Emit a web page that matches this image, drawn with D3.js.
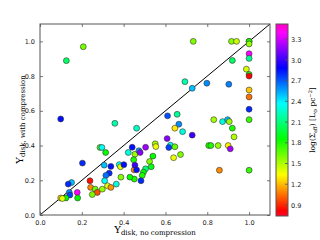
<!DOCTYPE html>
<html><head><meta charset="utf-8">
<script src="https://cdn.jsdelivr.net/npm/d3@7"></script>
<style>body{margin:0;background:#fff}svg{display:block}</style>
</head><body>
<svg id="c" width="320" height="240"></svg>
<script>
const xNoComp = [0.207,0.126,0.099,0.733,0.916,0.94,1.0,1.0,1.0,1.0,1.0,0.92,0.987,1.0,1.0,0.693,0.798,0.903,0.728,1.0,1.0,1.0,0.61,0.656,0.831,0.873,0.897,0.905,1.0,0.664,0.645,0.682,0.462,0.728,0.92,0.928,0.608,0.551,0.554,0.505,0.441,0.624,0.616,0.645,0.807,0.817,0.852,0.9,0.91,0.858,1.0,0.639,0.672,0.54,0.524,0.532,0.505,0.495,0.489,0.483,0.358,0.287,0.296,0.314,0.203,0.307,0.339,0.379,0.385,0.401,0.422,0.454,0.473,0.479,0.448,0.45,0.454,0.462,0.451,0.43,0.387,0.365,0.331,0.315,0.309,0.239,0.242,0.264,0.274,0.25,0.298,0.323,0.339,0.151,0.135,0.14,0.143,0.178,0.18,0.124,0.099,0.107];
const yWithComp = [0.969,0.889,0.553,1.0,1.0,1.0,1.0,1.0,0.985,0.929,0.902,0.89,0.84,0.81,0.8,0.768,0.759,0.753,0.73,0.72,0.68,0.609,0.571,0.58,0.549,0.538,0.549,0.538,0.549,0.523,0.5,0.48,0.5,0.46,0.5,0.45,0.44,0.41,0.394,0.39,0.39,0.402,0.389,0.393,0.4,0.4,0.4,0.4,0.381,0.258,0.258,0.33,0.348,0.339,0.308,0.278,0.266,0.247,0.228,0.197,0.528,0.389,0.389,0.36,0.299,0.287,0.28,0.29,0.278,0.29,0.36,0.35,0.37,0.36,0.318,0.26,0.287,0.26,0.207,0.218,0.218,0.178,0.241,0.228,0.197,0.197,0.159,0.149,0.13,0.118,0.149,0.168,0.159,0.187,0.178,0.13,0.115,0.13,0.098,0.098,0.098,0.095];
const logSigma = [1.62,2.05,2.85,1.6,1.58,1.45,1.65,1.8,1.55,3.38,2.15,2.05,1.42,1.8,0.82,2.2,2.6,2.62,2.5,1.22,1.05,2.8,2.72,2.15,1.52,2.3,2.5,1.55,1.75,2.6,1.3,2.3,2.25,3.0,1.8,1.5,3.15,1.52,1.38,3.2,2.85,2.35,2.75,1.65,1.78,1.8,1.55,1.3,3.2,1.1,1.75,1.38,1.6,1.85,1.6,1.9,2.1,1.85,1.8,2.8,2.2,1.68,2.35,1.85,2.8,2.5,2.85,2.35,1.4,2.85,2.3,1.55,2.55,3.15,1.8,1.1,3.0,2.85,1.8,1.85,1.6,2.3,2.8,2.65,2.35,0.85,1.1,1.65,0.98,1.6,1.55,1.4,1.12,2.5,2.8,2.6,2.75,3.38,1.85,1.85,1.25,1.4];
const axisTicks = [0.0,0.2,0.4,0.6,0.8,1.0];
const cbarTicks = [0.9,1.2,1.5,1.8,2.1,2.4,2.7,3.0,3.3];
const cbarRange = [0.74,3.52];

// gist_rainbow
const cmapPos = [0.0,0.03,0.215,0.4,0.586,0.77,0.954,1.0];
const cmapCol = ["rgb(255,0,41)","rgb(255,0,0)","rgb(255,255,0)","rgb(0,255,0)","rgb(0,255,255)","rgb(0,0,255)","rgb(255,0,255)","rgb(255,0,191)"];
const cm = d3.scaleLinear().domain(cmapPos).range(cmapCol).interpolate(d3.interpolateRgb);
const norm = d3.scaleLinear().domain(cbarRange).range([0,1]).clamp(true);
const color = v => cm(norm(v));

const svg = d3.select("#c");
const L=40,R=270,T=24,B=215;
const x = d3.scaleLinear().domain([0,1.1]).range([L,R]);
const y = d3.scaleLinear().domain([0,1.1]).range([B,T]);
const spine = "#555";
const fs = "6.5px";

// diagonal
svg.append("line").attr("x1",x(0)).attr("y1",y(0)).attr("x2",x(1.1)).attr("y2",y(1.1))
  .attr("stroke","#000").attr("stroke-width",1);

// points
const data = xNoComp.map((d,i)=>({x:d,y:yWithComp[i],c:logSigma[i]}));
svg.append("g").selectAll("circle").data(data).join("circle")
  .attr("cx",d=>x(d.x)).attr("cy",d=>y(d.y)).attr("r",2.95)
  .attr("fill",d=>color(d.c)).attr("stroke","#333").attr("stroke-width",0.6);

// axes
function styleAxis(g){
  g.select(".domain").remove();
  g.selectAll(".tick line").attr("stroke",spine).attr("stroke-width",0.8);
  g.selectAll(".tick text").attr("font-family","DejaVu Sans, sans-serif").attr("font-size",fs).attr("fill","#222");
}
const fmt = d3.format(".1f");
svg.append("g").attr("transform",`translate(0,${B})`)
  .call(d3.axisBottom(x).tickValues(axisTicks).tickFormat(fmt).tickSize(-3).tickPadding(5)).call(styleAxis);
svg.append("g").attr("transform",`translate(0,${T})`)
  .call(d3.axisTop(x).tickValues(axisTicks).tickFormat("").tickSize(-3)).call(styleAxis);
svg.append("g").attr("transform",`translate(${L},0)`)
  .call(d3.axisLeft(y).tickValues(axisTicks).tickFormat(fmt).tickSize(-3).tickPadding(5)).call(styleAxis);
svg.append("g").attr("transform",`translate(${R},0)`)
  .call(d3.axisRight(y).tickValues(axisTicks).tickFormat("").tickSize(-3)).call(styleAxis);
svg.append("rect").attr("x",L).attr("y",T).attr("width",R-L).attr("height",B-T)
  .attr("fill","none").attr("stroke",spine).attr("stroke-width",1);

// axis labels
const xl = svg.append("text").attr("x",(L+R)/2).attr("y",233).attr("text-anchor","middle")
  .attr("font-family","DejaVu Serif, serif").attr("fill","#000");
xl.append("tspan").attr("font-size","10px").text("Υ");
xl.append("tspan").attr("font-size","7px").attr("dy",2).text("disk, no compression");

const yl = svg.append("text").attr("transform",`translate(23,${(T+B)/2}) rotate(-90)`).attr("text-anchor","middle")
  .attr("font-family","DejaVu Serif, serif").attr("fill","#000");
yl.append("tspan").attr("font-size","10px").text("Υ");
yl.append("tspan").attr("font-size","7px").attr("dy",2).text("disk, with compression");

// colorbar
const CX=276,CW=12,CT=24,CB=216;
const defs = svg.append("defs");
const grad = defs.append("linearGradient").attr("id","cg").attr("x1",0).attr("y1",1).attr("x2",0).attr("y2",0);
d3.range(0,1.0001,0.01).forEach(t=>grad.append("stop").attr("offset",t).attr("stop-color",cm(t)));
svg.append("rect").attr("x",CX).attr("y",CT).attr("width",CW).attr("height",CB-CT).attr("fill","url(#cg)");
const cy = d3.scaleLinear().domain(cbarRange).range([CB,CT]);
svg.append("g").attr("transform",`translate(${CX+CW},0)`)
  .call(d3.axisRight(cy).tickValues(cbarTicks).tickFormat(fmt).tickSize(0).tickPadding(3)).call(styleAxis);
svg.append("g").attr("transform",`translate(${CX+CW},0)`).selectAll("line").data(cbarTicks).join("line")
  .attr("x1",-3).attr("x2",0).attr("y1",d=>cy(d)).attr("y2",d=>cy(d)).attr("stroke",spine).attr("stroke-width",0.8);
svg.append("rect").attr("x",CX).attr("y",CT).attr("width",CW).attr("height",CB-CT)
  .attr("fill","none").attr("stroke",spine).attr("stroke-width",1);

const cl = svg.append("text").attr("transform",`translate(315,${(CT+CB)/2}) rotate(-90)`).attr("text-anchor","middle")
  .attr("font-family","DejaVu Serif, serif").attr("font-size","7.5px").attr("fill","#000");
cl.append("tspan").text("log(Σ");
cl.append("tspan").attr("font-size","5px").attr("dy",1.5).text("eff");
cl.append("tspan").attr("dy",-1.5).text(") [L");
cl.append("tspan").attr("font-size","5px").attr("dy",1.5).text("⊙");
cl.append("tspan").attr("dy",-1.5).text(" pc");
cl.append("tspan").attr("font-size","5px").attr("dy",-3).text("−2");
cl.append("tspan").attr("dy",3).text("]");
</script>
</body></html>
